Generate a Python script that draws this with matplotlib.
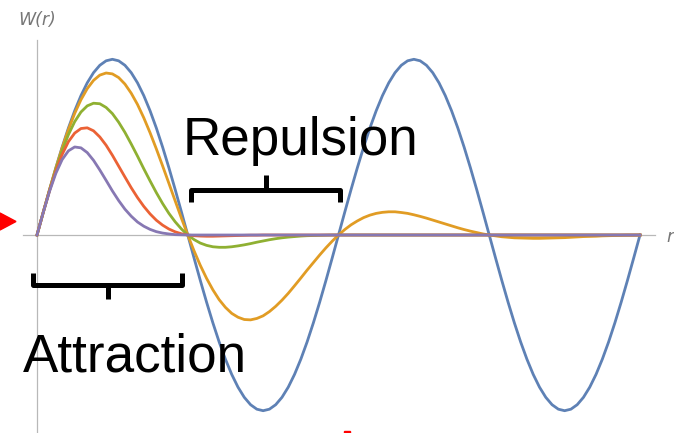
import numpy as np
import matplotlib.pyplot as plt
from matplotlib.patches import Polygon, Rectangle

# sample positions: 0 .. 4*pi in steps of pi/24
r = np.linspace(0, 4 * np.pi, 97)

half = [0, .1305, .2588, .3827, .5, .6088, .7071, .7934, .866, .9239, .9659, .9914,
        1, .9914, .9659, .9239, .866, .7934, .7071, .6088, .5, .3827, .2588, .1305]
w_blue = half + [-v for v in half] + half + [-v for v in half] + [0]

w_orange = [0, .130, .258, .381, .495, .600, .692, .770, .833, .880, .910, .922,
            .917, .896, .859, .807, .743, .667, .582, .490, .393, .294, .194, .095,
            0, -.090, -.173, -.247, -.312, -.368, -.412, -.446, -.468, -.481, -.483, -.475,
            -.460, -.436, -.406, -.371, -.332, -.289, -.245, -.200, -.157, -.114, -.073, -.035,
            0, .031, .058, .080, .099, .113, .123, .129, .132, .132, .128, .123,
            .115, .106, .096, .085, .074, .063, .052, .041, .031, .022, .014, .006,
            0, -.005, -.010, -.013, -.016, -.017, -.018, -.019, -.019, -.018, -.017, -.016,
            -.015, -.013, -.011, -.009, -.008, -.007, -.005, -.004, -.003, -.002, -.001, -.001,
            0]

w_green = [0, .130, .256, .374, .480, .571, .645, .700, .735, .750, .747, .726,
           .691, .642, .584, .518, .449, .377, .308, .241, .179, .123, .075, .034,
           0, -.026, -.046, -.059, -.067, -.070, -.070, -.067, -.062, -.056, -.049, -.041,
           -.034, -.027, -.021, -.016, -.012, -.009, -.006, -.004, -.003, -.002, -.001, 0] + [0] * 49

w_red = [0, .130, .253, .364, .458, .531, .580, .606, .610, .593, .558, .511,
         .454, .392, .330, .269, .213, .163, .120, .084, .056, .034, .018, .007,
         0, -.004, -.006, -.007, -.007, -.006, -.005, -.004, -.003, -.002, -.001, -.001] + [0] * 61

w_purple = [0, .129, .249, .351, .429, .479, .501, .496, .469, .425, .370, .311,
            .251, .196, .147, .107, .074, .050, .032, .019, .011, .006, .002, .001] + [0] * 73

colors = ['#5E81B5', '#E19C24', '#8FB032', '#EB6235', '#8778B3']
series = [w_blue, w_orange, w_green, w_red, w_purple]

W, H = 674, 433
fig = plt.figure(figsize=(W / 100, H / 100), dpi=100)
ax = fig.add_axes([0, 0, 1, 1])
ax.axis('off')

# pixel 37 -> r=0, pixel 640 -> r=4pi ; pixel 235 -> 0, 175.7 px per unit
sx = 603 / (4 * np.pi)
sy = 175.7
ax.set_xlim(-37 / sx, (W - 37) / sx)
ax.set_ylim(-(H - 235) / sy, 235 / sy)

# axes
ax.plot([-14 / sx, 618 / sx], [0, 0], color='#b8b8b8', lw=0.9, zorder=1)
ax.plot([0, 0], [-(H - 235) / sy, 195 / sy], color='#b8b8b8', lw=0.9, zorder=1)

for w, c in zip(series, colors):
    ax.plot(r, w, color=c, lw=2.0, solid_joinstyle='round', zorder=2)


def px(x, y):
    return x / W, 1 - y / H


fig.text(*px(18, 20), 'W(r)', fontsize=12.5, style='italic', color='#777777',
         va='center', ha='left')
fig.text(*px(666, 237), 'r', fontsize=12.5, style='italic', color='#777777',
         va='center', ha='left')

fig.text(*px(183, 155), 'Repulsion', fontsize=38.2, family='Liberation Sans',
         va='baseline', ha='left')
fig.text(*px(23, 372), 'Attraction', fontsize=38.2, family='Liberation Sans',
         va='baseline', ha='left')


def bracket(x0, x1, y, yend, ytip):
    xm = (x0 + x1) / 2
    pts = [(x0, yend), (x0, y), (x1, y), (x1, yend)]
    xs, ys = zip(*[px(a, b) for a, b in pts])
    fig.add_artist(plt.Line2D(xs, ys, color='black', lw=3.6,
                              solid_joinstyle='round', solid_capstyle='butt'))
    xs, ys = zip(*[px(xm, y), px(xm, ytip)])
    fig.add_artist(plt.Line2D(xs, ys, color='black', lw=3.6, solid_capstyle='butt'))


bracket(191, 340, 190, 202, 175)
bracket(33, 182, 285, 273, 299)

# red markers
fig.add_artist(Polygon([px(0, 213), px(16, 221.5), px(0, 230)], closed=True,
                       color='#ff0000', transform=fig.transFigure))
fig.add_artist(Rectangle(px(344, 433), 6 / W, 2 / H, color='#ff0000',
                         transform=fig.transFigure))

plt.savefig('out.png', dpi=100)
